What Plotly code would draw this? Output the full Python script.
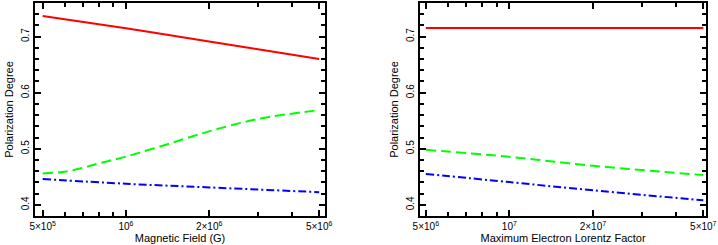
import plotly.graph_objects as go

# ---- data ----
b_field = [5e5, 1e6, 2e6, 5e6]
left_red = [0.737, 0.715, 0.6915, 0.660]
left_blue = [0.446, 0.4375, 0.431, 0.4225]
b_field_green = [5e5, 6e5, 7e5, 8e5, 1e6, 1.5e6, 2e6, 3e6, 5e6]
left_green = [0.456, 0.459, 0.466, 0.474, 0.486, 0.512, 0.531, 0.553, 0.569]

gamma_max = [5e6, 1e7, 2e7, 5e7]
right_red = [0.7154, 0.7154, 0.7154, 0.7154]
right_green = [0.498, 0.4855, 0.4697, 0.453]
right_blue = [0.455, 0.4405, 0.4258, 0.408]

left_tickvals = [5e5, 1e6, 2e6, 5e6]
left_ticktext = ["5×10<sup>5</sup>", "10<sup>6</sup>", "2×10<sup>6</sup>", "5×10<sup>6</sup>"]
left_minor = [6e5, 7e5, 8e5, 9e5, 3e6, 4e6]
right_tickvals = [5e6, 1e7, 2e7, 5e7]
right_ticktext = ["5×10<sup>6</sup>", "10<sup>7</sup>", "2×10<sup>7</sup>", "5×10<sup>7</sup>"]
right_minor = [6e6, 7e6, 8e6, 9e6, 3e7, 4e7]
y_ticks = [0.4, 0.5, 0.6, 0.7]

RED, GREEN, BLUE = "#ff0000", "#00ff00", "#0000ff"
LW = 2

fig = go.Figure()
for xs, ys, col, dash, ax in [
    (b_field, left_red, RED, "solid", "x"),
    (b_field_green, left_green, GREEN, "10px,5px", "x"),
    (b_field, left_blue, BLUE, "8px,3px,2px,3px", "x"),
    (gamma_max, right_red, RED, "solid", "x2"),
    (gamma_max, right_green, GREEN, "10px,5px", "x2"),
    (gamma_max, right_blue, BLUE, "8px,3px,2px,3px", "x2"),
]:
    fig.add_trace(go.Scatter(
        x=xs, y=ys, mode="lines", line=dict(color=col, width=LW, dash=dash, shape="spline"),
        xaxis=ax, yaxis="y" if ax == "x" else "y2", showlegend=False, hoverinfo="skip"))

FONT = "Liberation Sans, Arial, Helvetica, sans-serif"

def xax(domain, rng, tv, tt, minor, title, anchor):
    return dict(
        type="log", domain=domain, range=rng, anchor=anchor,
        tickmode="array", tickvals=tv, ticktext=tt, ticklabeloverflow="allow",
        ticks="inside", ticklen=6, tickwidth=1.5, tickcolor="black",
        minor=dict(tickmode="array", tickvals=minor, ticks="inside", ticklen=4,
                   tickwidth=1.5, tickcolor="black", showgrid=False),
        showline=True, linecolor="black", linewidth=2, mirror="allticks",
        showgrid=False, zeroline=False,
        tickfont=dict(size=10, color="black", family=FONT),
        title=dict(text=title, font=dict(size=11, color="black", family=FONT), standoff=2),
    )

def yax(anchor):
    return dict(
        range=[0.38, 0.76], anchor=anchor,
        tickmode="array", tickvals=y_ticks, ticktext=["0.4", "0.5", "0.6", "0.7"],
        tickangle=-90,
        ticks="inside", ticklen=6, tickwidth=1.5, tickcolor="black",
        minor=dict(dtick=0.02, tick0=0.4, ticks="inside", ticklen=4,
                   tickwidth=1.5, tickcolor="black", showgrid=False),
        showline=True, linecolor="black", linewidth=2, mirror="allticks",
        showgrid=False, zeroline=False,
        tickfont=dict(size=10, color="black", family=FONT),
        title=dict(text="Polarization Degree", font=dict(size=11, color="black", family=FONT), standoff=4),
    )

fig.update_layout(
    width=718, height=245,
    margin=dict(l=35, r=10, t=1, b=29),
    paper_bgcolor="white", plot_bgcolor="white",
    font=dict(family=FONT, color="black"),
    xaxis=xax([0, 0.4324], [5.6712, 6.7206], left_tickvals, left_ticktext, left_minor,
              "Magnetic Field (G)", "y"),
    yaxis=yax("x"),
    xaxis2=xax([0.574, 1], [6.6785, 7.7087], right_tickvals, right_ticktext, right_minor,
               "Maximum Electron Lorentz Factor", "y2"),
    yaxis2=yax("x2"),
)

fig.write_html("out.html", config={"displayModeBar": False},
               post_script="document.body.style.margin='0';document.body.style.overflow='hidden';")
